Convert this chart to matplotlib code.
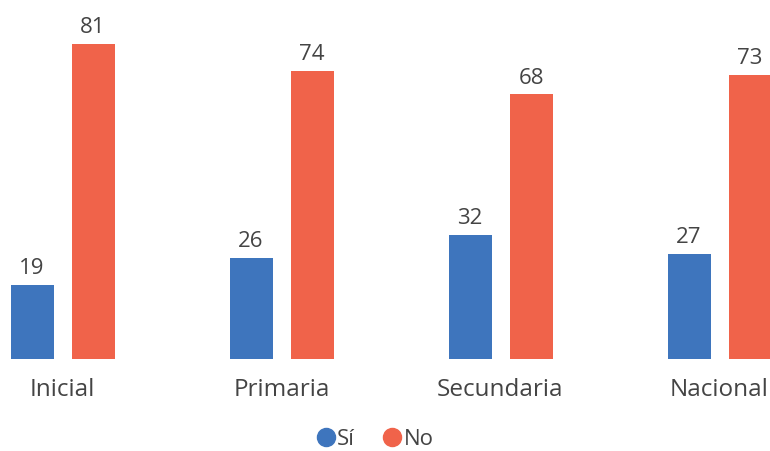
import matplotlib
matplotlib.use("Agg")
from matplotlib import pyplot as plt
from matplotlib.lines import Line2D
import numpy as np

niveles = ["Inicial", "Primaria", "Secundaria", "Nacional"]
si = [19, 26, 32, 27]
no = [81, 74, 68, 73]

azul = "#3E75BD"
naranja = "#F0634A"
gris = "#444444"

plt.rcParams["font.family"] = ["Open Sans", "DejaVu Sans"]

fig = plt.figure(figsize=(7.7, 4.52), dpi=100)
ax = fig.add_axes([0, 92 / 452, 1, 360 / 452])

x = np.arange(len(niveles))
ancho = 43 / 219
desp = 30.5 / 219

b1 = ax.bar(x - desp, si, ancho, color=azul)
b2 = ax.bar(x + desp, no, ancho, color=naranja)

# etiquetas de valor encima de cada barra
for barras in (b1, b2):
    for b in barras:
        ax.annotate(str(int(b.get_height())),
                    (b.get_x() + b.get_width() / 2, b.get_height()),
                    xytext=(0, 5), textcoords="offset points",
                    ha="center", va="bottom", fontsize=16, color=gris)

ax.set_xlim(-62.5 / 219, (770 - 62.5) / 219)
ax.set_ylim(0, 360 / 3.89)
ax.set_xticks(x)
ax.set_xticklabels(niveles, fontsize=17.5, color=gris)
ax.tick_params(axis="x", length=0, pad=13)
ax.set_yticks([])
for s in ax.spines.values():
    s.set_visible(False)

handles = [Line2D([], [], marker="o", linestyle="", markersize=13, color=azul),
           Line2D([], [], marker="o", linestyle="", markersize=13, color=naranja)]
fig.legend(handles, ["Sí", "No"], loc="center", bbox_to_anchor=(374 / 770, 1 - 440 / 452),
           ncol=2, frameon=False, handletextpad=0.0, columnspacing=1.2,
           handlelength=1.0, labelcolor=gris, prop={"size": 16})

fig.savefig("out.png", dpi=100)
